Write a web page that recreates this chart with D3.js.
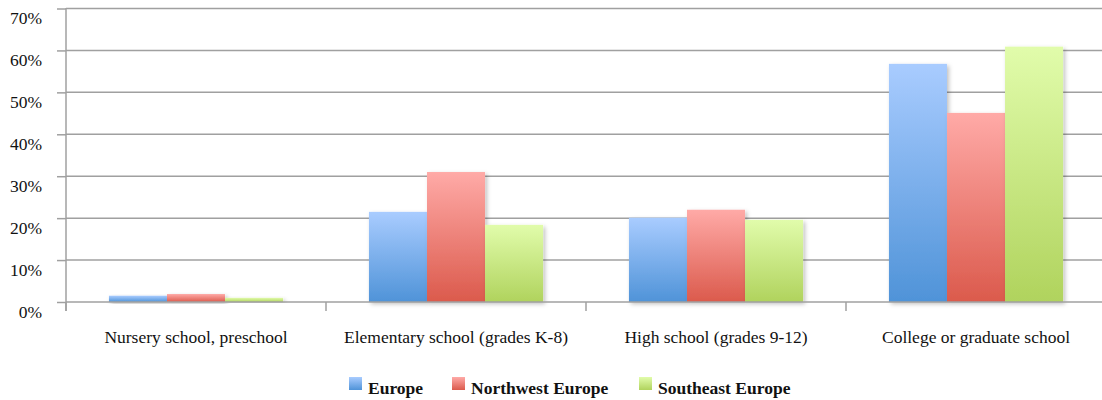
<!DOCTYPE html>
<html>
<head>
<meta charset="utf-8">
<script src="https://cdn.jsdelivr.net/npm/d3@7"></script>
<style>
  html, body { margin: 0; padding: 0; background: #fff; }
  svg { display: block; }
  text { font-family: "Liberation Serif", "Times New Roman", serif; fill: #111; }
</style>
</head>
<body>
<svg id="chart" width="1102" height="400"></svg>
<script>
const categories = ["Nursery school, preschool", "Elementary school (grades K-8)", "High school (grades 9-12)", "College or graduate school"];
const seriesNames = ["Europe", "Northwest Europe", "Southeast Europe"];
const europe = [1.5, 21.5, 20.1, 56.8];
const northwest = [1.9, 31.0, 22.0, 45.1];
const southeast = [1.0, 18.4, 19.6, 60.9];
const yTicks = [0, 10, 20, 30, 40, 50, 60, 70];

const seriesValues = [europe, northwest, southeast];
const gradColors = [["#a9ccff", "#4f93d8"], ["#ffaaa7", "#db5a4c"], ["#e1fcab", "#b0d35d"]];

const svg = d3.select("#chart");
const plotLeft = 66, plotRight = 1106, plotTop = 8.5, plotBottom = 302;

const x = d3.scaleBand().domain(categories).range([plotLeft, plotRight]).paddingInner(0).paddingOuter(0);
const x1 = d3.scaleBand().domain(seriesNames).range([0, x.bandwidth()]).paddingInner(0).paddingOuter(0.74);
const y = d3.scaleLinear().domain([0, 70]).range([plotBottom, plotTop]);

const defs = svg.append("defs");
gradColors.forEach((c, i) => {
  const g = defs.append("linearGradient").attr("id", "g" + i).attr("x1", 0).attr("y1", 0).attr("x2", 0).attr("y2", 1);
  g.append("stop").attr("offset", "0%").attr("stop-color", c[0]);
  g.append("stop").attr("offset", "100%").attr("stop-color", c[1]);
});
const f = defs.append("filter").attr("id", "shadow").attr("x", "-20%").attr("y", "-20%").attr("width", "140%").attr("height", "140%");
f.append("feDropShadow").attr("dx", 2).attr("dy", 2).attr("stdDeviation", 2).attr("flood-color", "#000").attr("flood-opacity", 0.25);

// gridlines
svg.append("g").selectAll("line").data(yTicks.filter(d => d > 0)).join("line")
  .attr("x1", plotLeft).attr("x2", plotRight)
  .attr("y1", d => y(d)).attr("y2", d => y(d))
  .attr("stroke", "#a0a0a0").attr("stroke-width", 1.5);

// y axis
const yAxis = d3.axisLeft(y).tickValues(yTicks).tickSize(9).tickFormat(d => d + "%");
const gy = svg.append("g").attr("transform", `translate(${plotLeft},0)`).call(yAxis);
gy.select(".domain").remove();
gy.selectAll(".tick line").attr("stroke", "#a0a0a0").attr("stroke-width", 1.5);
gy.selectAll(".tick text").attr("x", -24).attr("dy", "0.86em")
  .style("font-family", '"Liberation Serif", serif').style("font-size", "17.5px").attr("fill", "#111");
svg.append("line").attr("x1", plotLeft).attr("x2", plotLeft).attr("y1", plotTop - 0.5).attr("y2", 311)
  .attr("stroke", "#a0a0a0").attr("stroke-width", 1.5);

// bars
const groups = svg.append("g").selectAll("g").data(categories).join("g")
  .attr("transform", d => `translate(${x(d)},0)`);
groups.selectAll("rect").data((d, ci) => seriesNames.map((s, si) => ({ s, si, v: seriesValues[si][ci] }))).join("rect")
  .attr("x", d => x1(d.s))
  .attr("width", x1.bandwidth())
  .attr("y", d => y(d.v))
  .attr("height", d => y(0) - y(d.v))
  .attr("fill", d => `url(#g${d.si})`)
  .attr("filter", "url(#shadow)");

// x axis
const xAxis = d3.axisBottom(x).tickSize(0).tickFormat(d => d);
const gx = svg.append("g").attr("transform", `translate(0,${plotBottom})`).call(xAxis);
gx.select(".domain").remove();
gx.selectAll(".tick text").attr("y", 41).attr("dy", 0)
  .style("font-family", '"Liberation Serif", serif').style("font-size", "17.5px").attr("fill", "#111");
svg.append("line").attr("x1", plotLeft).attr("x2", plotRight).attr("y1", plotBottom).attr("y2", plotBottom)
  .attr("stroke", "#a0a0a0").attr("stroke-width", 1.5);
const boundaries = categories.map(c => x(c));
svg.append("g").selectAll("line").data(boundaries).join("line")
  .attr("x1", d => d).attr("x2", d => d).attr("y1", plotBottom).attr("y2", 311)
  .attr("stroke", "#a0a0a0").attr("stroke-width", 1.5);

// legend
const legendX = [349, 452, 639];
const lg = svg.append("g").selectAll("g").data(seriesNames).join("g")
  .attr("transform", (d, i) => `translate(${legendX[i]},377)`);
lg.append("rect").attr("width", 13).attr("height", 13).attr("fill", (d, i) => `url(#g${i})`);
lg.append("text").attr("x", 19).attr("y", 17).text(d => d)
  .style("font-weight", "bold").style("font-size", "17.5px");
</script>
</body>
</html>
